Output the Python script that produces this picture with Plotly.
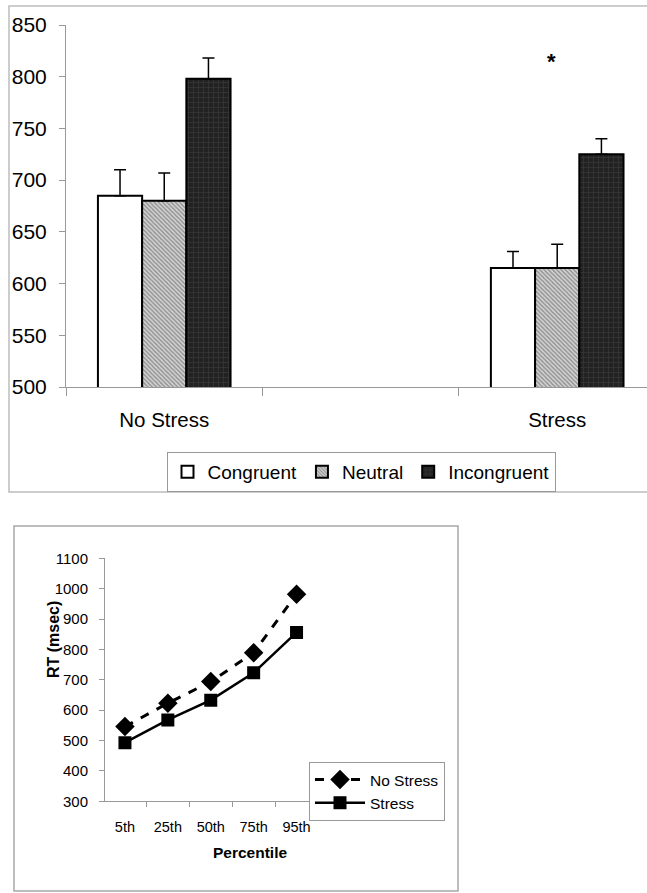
import plotly.graph_objects as go

W, H = 647, 893

# ---- Top chart data ----
groups = ["No Stress", " ", "Stress"]
congruent = [685, None, 615]
congruent_err = [25, 0, 16]
neutral = [680, None, 615]
neutral_err = [27, 0, 23]
incongruent = [798, None, 725]
incongruent_err = [20, 0, 15]

# ---- Bottom chart data ----
percentiles = ["5th", "25th", "50th", "75th", "95th"]
no_stress_rt = [546, 623, 694, 789, 982]
stress_rt = [493, 568, 633, 723, 856]

def px_x(p):
    return p / W

def px_y(p):
    return 1 - p / H

fig = go.Figure()

common_bar = dict(xaxis="x", yaxis="y", legend="legend")
fig.add_trace(go.Bar(
    name="Congruent", x=groups, y=congruent,
    marker=dict(color="white", line=dict(color="black", width=2)),
    error_y=dict(type="data", symmetric=False, array=congruent_err,
                 arrayminus=[0, 0, 0], color="black", thickness=1.5, width=6),
    **common_bar))
fig.add_trace(go.Bar(
    name="Neutral", x=groups, y=neutral,
    marker=dict(color="#c8c8c8", line=dict(color="black", width=2),
                pattern=dict(shape="\\", fgcolor="#505050", bgcolor="#d6d6d6",
                             size=3, solidity=0.5)),
    error_y=dict(type="data", symmetric=False, array=neutral_err,
                 arrayminus=[0, 0, 0], color="black", thickness=1.5, width=6),
    **common_bar))
fig.add_trace(go.Bar(
    name="Incongruent", x=groups, y=incongruent,
    marker=dict(color="#262626", line=dict(color="black", width=2),
                pattern=dict(shape="+", fgcolor="#4a4a4a", bgcolor="#222222",
                             size=5, solidity=0.3)),
    error_y=dict(type="data", symmetric=False, array=incongruent_err,
                 arrayminus=[0, 0, 0], color="black", thickness=1.5, width=6),
    **common_bar))

fig.add_trace(go.Scatter(
    name="No Stress", x=percentiles, y=no_stress_rt, mode="lines+markers",
    line=dict(color="black", width=3, dash="dash"),
    marker=dict(symbol="diamond", size=15, color="black"),
    xaxis="x2", yaxis="y2", legend="legend2", legendgroup="a"))
fig.add_trace(go.Scatter(
    name="Stress", x=percentiles, y=stress_rt, mode="lines+markers",
    line=dict(color="black", width=2.5),
    marker=dict(symbol="square", size=13, color="black"),
    xaxis="x2", yaxis="y2", legend="legend2", legendgroup="b"))

font_main = "Liberation Sans, Arial, sans-serif"

fig.update_layout(
    width=W, height=H,
    margin=dict(l=0, r=0, t=0, b=0, autoexpand=False),
    paper_bgcolor="white", plot_bgcolor="white",
    font=dict(family=font_main, color="black"),
    barmode="group", bargap=0.325, bargroupgap=0,
    showlegend=True,
    xaxis=dict(domain=[px_x(66), 1], range=[-0.5, 2.457],
               type="category", categoryorder="array", categoryarray=groups,
               tickson="boundaries", ticks="outside", ticklen=8,
               tickcolor="#999999", showline=True, linecolor="#999999",
               linewidth=1, showgrid=False, zeroline=False,
               ticklabelstandoff=14, automargin=False,
               tickfont=dict(size=20.5, color="black"), fixedrange=True),
    yaxis=dict(domain=[px_y(387), px_y(25)], range=[500, 850], dtick=50,
               ticks="outside", ticklen=6, tickcolor="#999999",
               showline=True, linecolor="#999999", linewidth=1,
               showgrid=False, zeroline=False, ticklabelstandoff=8,
               automargin=False,
               tickfont=dict(size=21, color="black")),
    xaxis2=dict(domain=[px_x(105), px_x(316.5)], anchor="y2",
                type="category", tickson="boundaries", ticks="outside",
                ticklen=5, tickcolor="#999999", showline=True,
                linecolor="#999999", linewidth=1, showgrid=False,
                ticklabelstandoff=12, automargin=False,
                tickfont=dict(size=14.5, color="black")),
    yaxis2=dict(domain=[px_y(801.3), px_y(558.3)], anchor="x2",
                range=[300, 1100], dtick=100, ticks="outside", ticklen=5,
                tickcolor="#999999", showline=True, linecolor="#999999",
                linewidth=1, showgrid=False, zeroline=False,
                ticklabelstandoff=8, automargin=False,
                tickfont=dict(size=15, color="black")),
    legend=dict(orientation="h", x=px_x(361), xanchor="center",
                y=px_y(452), yanchor="top", bordercolor="#999999",
                borderwidth=1, bgcolor="white",
                font=dict(size=19, color="black"),
                itemwidth=30, traceorder="normal", tracegroupgap=0),
    legend2=dict(x=px_x(309), xanchor="left", y=px_y(762), yanchor="top",
                 bordercolor="#999999", borderwidth=1, bgcolor="white",
                 font=dict(size=15.5, color="black"), traceorder="normal",
                 itemwidth=50, tracegroupgap=6),
    shapes=[
        dict(type="rect", xref="paper", yref="paper",
             x0=px_x(9), x1=px_x(652), y0=px_y(492), y1=px_y(6),
             line=dict(color="#bdbdbd", width=1.5), layer="below"),
        dict(type="rect", xref="paper", yref="paper",
             x0=px_x(14), x1=px_x(458), y0=px_y(891), y1=px_y(526),
             line=dict(color="#a8a8a8", width=1.5), layer="below"),
    ],
    annotations=[
        dict(text="<b>*</b>", x=1.97, y=815, xref="x", yref="y",
             showarrow=False,
             font=dict(size=22, color="black", family=font_main)),
        dict(text="<b>RT (msec)</b>", textangle=-90, xref="paper",
             yref="paper", x=px_x(43), y=px_y(680), showarrow=False,
             font=dict(size=16, color="black")),
        dict(text="<b>Percentile</b>", xref="paper", yref="paper",
             x=px_x(211), y=px_y(863), showarrow=False,
             font=dict(size=15.5, color="black")),
    ],
)

fig.write_html(
    "out.html",
    config={"displayModeBar": False},
    post_script=("document.body.style.margin='0';"
                 "document.body.style.padding='0';"
                 "document.documentElement.style.overflow='hidden';"),
)
